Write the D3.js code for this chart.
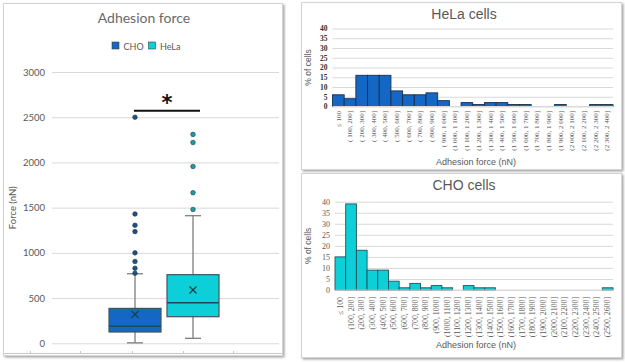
<!DOCTYPE html>
<html><head><meta charset="utf-8">
<script src="https://cdn.jsdelivr.net/npm/d3@7"></script>
<style>body{margin:0;background:#fff}svg{display:block}</style>
</head><body>
<script>
// ---------- DATA ----------
const boxSeries = ["CHO", "HeLa"];
const boxMin = [5, 55];
const boxQ1 = [125, 294];
const boxMedian = [188, 449];
const boxQ3 = [386, 759];
const boxMax = [769, 1411];
const boxMean = [320, 590];
const choOutliers = [775, 830, 905, 1000, 1235, 1305, 1430, 2500];
const helaOutliers = [1480, 1665, 1955, 2220, 2310];
const forceTicks = [0, 500, 1000, 1500, 2000, 2500, 3000];

const helaBins = ["≤ 100","( 100, 200]","( 200, 300]","( 300, 400]","( 400, 500]","( 500, 600]","( 600, 700]","( 700, 800]","( 800, 900]","( 900, 1 000]","(1 000, 1 100]","(1 100, 1 200]","(1 200, 1 300]","(1 300, 1 400]","(1 400, 1 500]","(1 500, 1 600]","(1 600, 1 700]","(1 700, 1 800]","(1 800, 1 900]","(1 900, 2 000]","(2 000, 2 100]","(2 100, 2 200]","(2 200, 2 300]","(2 300, 2 400]"];
const helaPct = [6, 4, 16, 16, 16, 8, 6, 6, 7, 3, 0, 2, 1, 2, 2, 1, 1, 0, 0, 1, 0, 0, 1, 1];
const choBins = ["≤ 100","(100, 200]","(200, 300]","(300, 400]","(400, 500]","(500, 600]","(600, 700]","(700, 800]","(800, 900]","(900, 1000]","(1000, 1100]","(1100, 1200]","(1200, 1300]","(1300, 1400]","(1400, 1500]","(1500, 1600]","(1600, 1700]","(1700, 1800]","(1800, 1900]","(1900, 2000]","(2000, 2100]","(2100, 2200]","(2200, 2300]","(2300, 2400]","(2400, 2500]","(2500, 2600]"];
const choPct = [15, 39, 18, 9, 9, 4, 1, 3, 1, 2, 1, 0, 2, 1, 1, 0, 0, 0, 0, 0, 0, 0, 0, 0, 0, 1];
const pctTicks = [0, 5, 10, 15, 20, 25, 30, 35, 40];

// ---------- STYLE ----------
const blue = "#1467c4", cyan = "#0dcfd8";
const svg = d3.select("body").append("svg").attr("width", 625).attr("height", 363);
const defs = svg.append("defs");
const f = defs.append("filter").attr("id","sh").attr("x","-5%").attr("y","-5%").attr("width","110%").attr("height","110%");
f.append("feDropShadow").attr("dx",1.5).attr("dy",1.5).attr("stdDeviation",1.2).attr("flood-color","#000").attr("flood-opacity",0.35);

function panel(x, y, w, h) {
  svg.append("rect").attr("x", x).attr("y", y).attr("width", w).attr("height", h)
    .attr("fill", "#fff").attr("stroke", "#d4d4d4").attr("stroke-width", 1).attr("filter", "url(#sh)");
}
panel(3.5, 3.5, 279, 352);
panel(301.5, 2.5, 320, 167);
panel(301.5, 173.5, 320, 184);

// ---------- BOX PLOT ----------
const L = {x0: 52, x1: 279, y0: 343.3, y1: 72};
const y = d3.scaleLinear().domain([0, 3000]).range([L.y0, L.y1]);
const x = d3.scalePoint().domain(boxSeries).range([106, 222]).padding(0.5);
const g = svg.append("g");
const font1 = "Lato, 'Open Sans', sans-serif";
g.append("text").attr("x", 144).attr("y", 23).attr("text-anchor","middle")
  .attr("font-family", font1).attr("font-size", 14).attr("fill","#6a6a6a").text("Adhesion force");
// legend
const leg = [{n:"CHO", c:blue, x:112}, {n:"HeLa", c:cyan, x:148.5}];
leg.forEach(d => {
  g.append("rect").attr("x", d.x).attr("y", 42).attr("width", 7).attr("height", 7).attr("fill", d.c).attr("stroke","#404040").attr("stroke-width",0.6);
  g.append("text").attr("x", d.x + 11.5).attr("y", 49.5).attr("font-family", font1).attr("font-size", 9).attr("fill","#595959").text(d.n);
});
// grid
const ya = d3.axisLeft(y).tickValues(forceTicks).tickFormat(d3.format("d")).tickSize(-(L.x1 - L.x0)).tickPadding(7);
const yg = g.append("g").attr("transform", `translate(${L.x0},0)`).call(ya);
yg.select(".domain").remove();
yg.selectAll("line").attr("stroke","#d9d9d9");
yg.selectAll("text").attr("font-family", font1).attr("font-size", 9.5).attr("fill","#595959");
g.append("text").attr("transform", `translate(16,${(L.y0+L.y1)/2}) rotate(-90)`).attr("text-anchor","middle")
  .attr("font-family", font1).attr("font-size", 9.5).attr("fill","#595959").text("Force (nN)");
// bottom axis line
g.append("line").attr("x1", 4).attr("x2", 282).attr("y1", 353.5).attr("y2", 353.5).attr("stroke","#c8c8c8");
[30, 80, 132, 183, 233].forEach(t => g.append("line").attr("x1", t+0.5).attr("x2", t+0.5).attr("y1", 351).attr("y2", 353.5).attr("stroke","#c8c8c8"));

const bw = 52;
boxSeries.forEach((s, i) => {
  const cx = x(s), col = i === 0 ? blue : cyan;
  g.append("line").attr("x1", cx).attr("x2", cx).attr("y1", y(boxMin[i])).attr("y2", y(boxMax[i])).attr("stroke","#7f7f7f").attr("stroke-width",1.3);
  [boxMin[i], boxMax[i]].forEach(v => g.append("line").attr("x1", cx-8).attr("x2", cx+8).attr("y1", y(v)).attr("y2", y(v)).attr("stroke","#7f7f7f").attr("stroke-width",1.3));
  g.append("rect").attr("x", cx - bw/2).attr("y", y(boxQ3[i])).attr("width", bw).attr("height", y(boxQ1[i]) - y(boxQ3[i]))
    .attr("fill", col).attr("stroke","#3f5560").attr("stroke-width",1.2);
  g.append("line").attr("x1", cx - bw/2).attr("x2", cx + bw/2).attr("y1", y(boxMedian[i])).attr("y2", y(boxMedian[i])).attr("stroke","#1d4a5a").attr("stroke-width",1.5);
  const my = y(boxMean[i]), k = 3.5;
  g.append("path").attr("d", `M${cx-k},${my-k}L${cx+k},${my+k}M${cx-k},${my+k}L${cx+k},${my-k}`).attr("stroke","#1d3d4a").attr("stroke-width",1.3);
  const outs = i === 0 ? choOutliers : helaOutliers;
  g.selectAll(null).data(outs).enter().append("circle").attr("cx", cx).attr("cy", v => y(v)).attr("r", 2.3)
    .attr("fill", i === 0 ? "#1d4f80" : "#1a9ca4").attr("stroke", "#1f3a4a").attr("stroke-width",0.6);
});
// significance
g.append("line").attr("x1", x("CHO") - 1).attr("x2", x("HeLa") + 7).attr("y1", 110.7).attr("y2", 110.7).attr("stroke","#111").attr("stroke-width",2);
g.append("text").attr("x", 167).attr("y", 110).attr("text-anchor","middle").attr("font-family","DejaVu Sans, sans-serif")
  .attr("font-weight","bold").attr("font-size", 21).attr("fill","#111").text("*");

// ---------- HISTOGRAMS ----------
function hist(o) {
  const gg = svg.append("g");
  const xs = d3.scaleBand().domain(o.bins).range([o.x0, o.x1]).padding(0);
  const ys = d3.scaleLinear().domain([0, 40]).range([o.y0, o.y1]);
  gg.append("text").attr("x", o.tx).attr("y", o.ty).attr("text-anchor","middle").attr("font-family","'Liberation Sans', Arial, sans-serif")
    .attr("font-size", 14).attr("fill","#595959").text(o.title);
  const ax = d3.axisLeft(ys).tickValues(pctTicks).tickSize(-(o.x1 - o.x0)).tickPadding(o.tp);
  const ag = gg.append("g").attr("transform", `translate(${o.x0},0)`).call(ax);
  ag.select(".domain").remove();
  ag.selectAll("line").attr("stroke","#d9d9d9");
  ag.selectAll("text").attr("font-family","'Liberation Serif', 'Times New Roman', serif").attr("font-size", o.tfs)
    .attr("font-weight", o.bold ? "bold" : "normal").attr("fill", o.bold ? "#333" : "#595959");
  gg.append("text").attr("transform", `translate(${o.lx},${(o.y0+o.y1)/2}) rotate(-90)`).attr("text-anchor","middle")
    .attr("font-family","'Liberation Sans', Arial, sans-serif").attr("font-size", 8.5).attr("fill","#595959").text("% of cells");
  gg.selectAll(null).data(o.vals).enter().append("rect")
    .attr("x", (d, i) => xs(o.bins[i])).attr("width", xs.bandwidth())
    .attr("y", d => ys(d)).attr("height", d => ys(0) - ys(d))
    .attr("fill", o.color).attr("stroke", o.stroke).attr("stroke-width", 0.9);
  gg.append("line").attr("x1", o.x0).attr("x2", o.x1).attr("y1", o.y0).attr("y2", o.y0).attr("stroke","#d9d9d9");
  const xa = d3.axisBottom(xs).tickSize(0).tickPadding(0);
  const xg = gg.append("g").attr("transform", `translate(0,${o.y0})`).call(xa);
  xg.select(".domain").remove();
  xg.selectAll("text").attr("transform", "rotate(-90)").attr("text-anchor","end").attr("dy","0.32em")
    .attr("x", -o.lpad).attr("y", 0)
    .attr("font-family","'Liberation Serif', 'Times New Roman', serif").attr("font-size", o.xfs).attr("fill","#595959");
  gg.append("text").attr("x", o.ax).attr("y", o.ay).attr("text-anchor","middle").attr("font-family","'Liberation Sans', Arial, sans-serif")
    .attr("font-size", 9).attr("fill","#595959").text("Adhesion force (nN)");
}
hist({bins: helaBins, vals: helaPct, x0: 332.5, x1: 613, y0: 106.5, y1: 28.5, title: "HeLa cells", tx: 464, ty: 19,
  tp: 5, tfs: 7.5, bold: true, lx: 311, color: blue, stroke: "#1c2f4a", lpad: 4.5, xfs: 7, ax: 476, ay: 165});
hist({bins: choBins, vals: choPct, x0: 335, x1: 613, y0: 290, y1: 201.7, title: "CHO cells", tx: 464, ty: 190,
  tp: 5, tfs: 8, bold: false, lx: 311, color: cyan, stroke: "#25505a", lpad: 7, xfs: 7.8, ax: 476, ay: 348});
</script>
</body></html>
